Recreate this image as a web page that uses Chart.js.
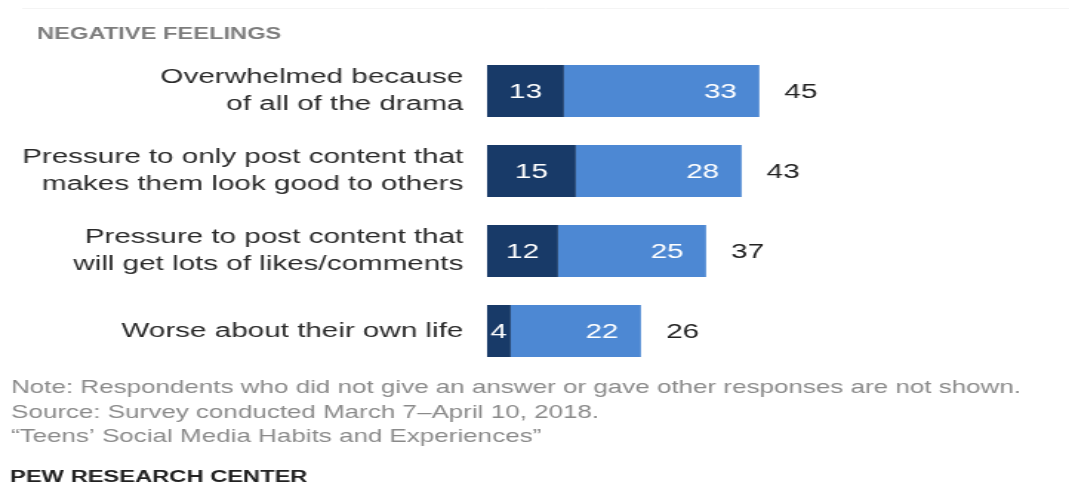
<!DOCTYPE html>
<html><head><meta charset="utf-8">
<script src="https://cdn.jsdelivr.net/npm/chart.js@4/dist/chart.umd.min.js"></script>
<style>
html,body{margin:0;padding:0;background:#fff;overflow:hidden;}
#wrap{width:1069px;height:484px;position:relative;overflow:hidden;background:#fff;}
#c{position:absolute;left:0;top:0;transform-origin:0 0;}
</style></head><body>
<div id="wrap"><canvas id="c"></canvas></div>
<script>
// ---- data ----
const categories = [
  ["Overwhelmed because", "of all of the drama"],
  ["Pressure to only post content that", "makes them look good to others"],
  ["Pressure to post content that", "will get lots of likes/comments"],
  "Worse about their own life"
];
const seriesNames = ["Often", "Sometimes"];
const oftenValues = [13, 15, 12, 4];
const sometimesValues = [33, 28, 25, 22];
const netValues = [45, 43, 37, 26];
const sectionTitle = "NEGATIVE FEELINGS";
const noteLines = [
  "Note: Respondents who did not give an answer or gave other responses are not shown.",
  "Source: Survey conducted March 7\u2013April 10, 2018.",
  "\u201cTeens\u2019 Social Media Habits and Experiences\u201d"
];
const footerText = "PEW RESEARCH CENTER";

// ---- layout (reference is horizontally stretched; draw narrow, stretch with CSS) ----
const W = 722, H = 484;
const S = 1069 / W;
const canvas = document.getElementById('c');
canvas.width = W; canvas.height = H;
canvas.style.width = W + 'px'; canvas.style.height = H + 'px';
canvas.style.transform = 'scaleX(' + S + ')';

const SANS = '"Liberation Sans", Arial, sans-serif';
const noteSize = 19;
const noteTargetWidth = 1010 / S;

const labelPlugin = {
  id: 'valueLabels',
  afterDatasetsDraw(chart) {
    const ctx = chart.ctx;
    const m0 = chart.getDatasetMeta(0), m1 = chart.getDatasetMeta(1);
    ctx.save();
    ctx.font = '20px ' + SANS;
    ctx.textBaseline = 'middle';
    m0.data.forEach((bar, i) => {
      const p = bar.getProps(['x', 'y', 'base'], true);
      ctx.fillStyle = '#ffffff';
      ctx.textAlign = 'center';
      ctx.fillText(String(oftenValues[i]), (p.x + p.base) / 2, p.y + 1);
    });
    m1.data.forEach((bar, i) => {
      const p = bar.getProps(['x', 'y', 'base'], true);
      ctx.fillStyle = '#ffffff';
      ctx.textAlign = 'right';
      ctx.fillText(String(sometimesValues[i]), p.x - 15.2, p.y + 1);
      ctx.fillStyle = '#222222';
      ctx.textAlign = 'left';
      ctx.fillText(String(netValues[i]), p.x + 17, p.y + 1);
    });
    ctx.restore();
  },
  afterDraw(chart) {
    const ctx = chart.ctx;
    ctx.save();
    // faint top rule
    ctx.strokeStyle = '#f4f4f4';
    ctx.lineWidth = 1;
    ctx.beginPath(); ctx.moveTo(15, 8.5); ctx.lineTo(W, 8.5); ctx.stroke();
    // section title
    ctx.textAlign = 'left';
    ctx.textBaseline = 'alphabetic';
    ctx.fillStyle = '#7d7d7d';
    ctx.font = 'bold 16px ' + SANS;
    ctx.fillText(sectionTitle, 37 / S, 39);
    // notes (scaled horizontally to the reference line length)
    ctx.fillStyle = '#8a8a8a';
    ctx.font = noteSize + 'px ' + SANS;
    const k = noteTargetWidth / ctx.measureText(noteLines[0]).width;
    const ys = [393, 418, 442];
    noteLines.forEach((t, i) => {
      ctx.save();
      ctx.translate(11 / S, ys[i]);
      ctx.scale(k, 1);
      ctx.fillText(t, 0, 0);
      ctx.restore();
    });
    ctx.fillStyle = '#222222';
    ctx.font = 'bold 16px ' + SANS;
    ctx.fillText(footerText, 10 / S, 482);
    ctx.restore();
  }
};

const xStart = 487 / S;          // left edge of bars in canvas px
const pxPerUnit = 5.92 / S;      // horizontal scale
const xMax = 90;
const areaRight = xStart + xMax * pxPerUnit;

new Chart(canvas, {
  type: 'bar',
  data: {
    labels: categories,
    datasets: [
      { label: seriesNames[0], data: oftenValues, backgroundColor: '#183a68', borderWidth: 0, barPercentage: 0.65, categoryPercentage: 1 },
      { label: seriesNames[1], data: sometimesValues, backgroundColor: '#4d88d3', borderWidth: 0, barPercentage: 0.65, categoryPercentage: 1 }
    ]
  },
  options: {
    indexAxis: 'y',
    responsive: false,
    animation: false,
    devicePixelRatio: 1,
    layout: { padding: { left: 0, right: W - areaRight, top: 51, bottom: H - 371 } },
    plugins: {
      legend: { display: false },
      tooltip: { enabled: false },
      title: { display: false }
    },
    scales: {
      x: { stacked: true, display: false, min: 0, max: xMax },
      y: {
        stacked: true,
        grid: { display: false, drawTicks: false },
        border: { display: false },
        ticks: { color: '#2a2a2a', padding: 16, font: { family: SANS, size: 20, lineHeight: 1.35 } },
        afterFit(scale) { scale.width = xStart; }
      }
    }
  },
  plugins: [labelPlugin]
});
</script>
</body></html>
